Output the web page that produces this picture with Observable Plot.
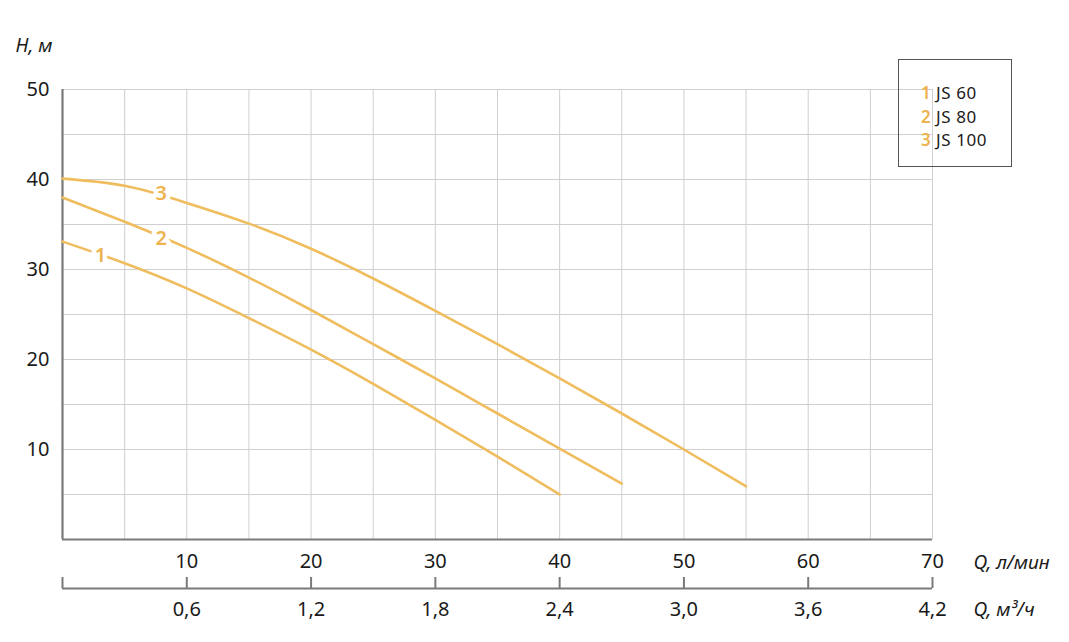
<!DOCTYPE html>
<html>
<head>
<meta charset="utf-8">
<script src="https://cdn.jsdelivr.net/npm/d3@7"></script>
<script src="https://cdn.jsdelivr.net/npm/@observablehq/plot@0.6"></script>
<style>
  html, body { margin: 0; padding: 0; background: #fff; }
  #wrap { position: relative; width: 1069px; height: 642px; font-family: "Noto Sans", sans-serif; }
  #legend { position: absolute; left: 898px; top: 59px; width: 112px; height: 106px;
            border: 1.5px solid #555; box-sizing: content-box; padding: 0; }
  #legend span { position: absolute; font-size: 17px; color: #1a1a1a; line-height: 22px; white-space: nowrap; letter-spacing: 0.6px; }
  #legend span.num { color: #eeb34e; font-weight: 600; left: 22px; }
  #legend span.name { left: 37px; }
</style>
</head>
<body>
<div id="wrap"></div>
<script>
// Data
const q1 = [0, 5, 10, 15, 20, 25, 30, 35, 40];
const h1 = [33.1, 30.7, 27.9, 24.6, 21.1, 17.3, 13.3, 9.2, 5.0];
const q2 = [0, 5, 10, 15, 20, 25, 30, 35, 40, 45];
const h2 = [38.0, 35.3, 32.4, 29.1, 25.5, 21.7, 17.9, 14.0, 10.1, 6.2];
const q3 = [0, 5, 10, 15, 20, 25, 30, 35, 40, 45, 50, 55];
const h3 = [40.1, 39.3, 37.4, 35.1, 32.3, 29.0, 25.4, 21.7, 17.9, 14.0, 10.0, 5.9];

const seriesIds = ["1", "2", "3"];
const seriesNames = ["JS 60", "JS 80", "JS 100"];
const labelQ = [3.05, 7.95, 7.95];
const labelH = [31.6, 33.4, 38.4];

const xTicks = [10, 20, 30, 40, 50, 60, 70];
const xTickMarks = [0, 10, 20, 30, 40, 50, 60, 70];
const yTicks = [10, 20, 30, 40, 50];
const gridXVals = d3.range(5, 71, 5);
const gridYVals = d3.range(5, 51, 5);
const m3hFactor = 0.06; // л/мин -> м³/ч

const curves = [
  ...q1.map((q, i) => ({s: "1", q, h: h1[i]})),
  ...q2.map((q, i) => ({s: "2", q, h: h2[i]})),
  ...q3.map((q, i) => ({s: "3", q, h: h3[i]}))
];
const labels = seriesIds.map((s, i) => ({s, q: labelQ[i], h: labelH[i]}));

const lineColor = "#efbd5e";
const labelColor = "#eeb34e";
const axisColor = "#7a7a7a";
const gridColor = "#cfcfcf";
const tickFont = 20;
const titleFont = 19;

const chart = Plot.plot({
  width: 1069,
  height: 642,
  marginLeft: 62,
  marginRight: 137,
  marginTop: 89,
  marginBottom: 103,
  style: {fontFamily: "Noto Sans, sans-serif", fontSize: "20px", color: "#1a1a1a", background: "#fff"},
  x: {domain: [0, 70]},
  y: {domain: [0, 50]},
  marks: [
    Plot.gridX(gridXVals, {stroke: gridColor, strokeOpacity: 1, strokeWidth: 1}),
    Plot.gridY(gridYVals, {stroke: gridColor, strokeOpacity: 1, strokeWidth: 1}),
    Plot.axisY(yTicks, {tickSize: 0, tickPadding: 13, fontSize: tickFont, label: null, fill: "#1a1a1a"}),
    Plot.axisX(xTicks, {anchor: "bottom", tickSize: 0, tickPadding: 14, fontSize: tickFont, label: null, fill: "#1a1a1a"}),
    Plot.axisX(xTickMarks, {anchor: "bottom", tickSize: 11, tickFormat: () => "", label: null, dy: 38, stroke: axisColor, strokeWidth: 2}),
    Plot.axisX(xTicks, {anchor: "bottom", tickSize: 0, tickPadding: 13, dy: 49, fontSize: tickFont, label: null, fill: "#1a1a1a",
      tickFormat: d => (d * m3hFactor).toFixed(1).replace(".", ",")}),
    Plot.ruleY([0], {dy: 49, stroke: axisColor, strokeWidth: 2}),
    Plot.ruleX([0], {stroke: axisColor, strokeWidth: 2.2}),
    Plot.ruleY([0], {stroke: axisColor, strokeWidth: 2.2}),
    Plot.line(curves, {x: "q", y: "h", z: "s", stroke: lineColor, strokeWidth: 2.6, curve: "natural"}),
    Plot.text(labels, {x: "q", y: "h", text: "s", fill: labelColor, stroke: "#fff", strokeWidth: 9,
      fontSize: 20, fontWeight: 600}),
    Plot.text(["H, м"], {frameAnchor: "top-left", dx: -47, dy: -44, textAnchor: "start", lineAnchor: "middle",
      fontStyle: "italic", fontSize: titleFont, fill: "#1a1a1a"}),
    Plot.text(["Q, л/мин"], {x: () => 70, y: () => 0, dx: 41, dy: 23, textAnchor: "start", lineAnchor: "middle",
      fontStyle: "italic", fontSize: titleFont, fill: "#1a1a1a"}),
    Plot.text(["Q, м³/ч"], {x: () => 70, y: () => 0, dx: 41, dy: 70, textAnchor: "start", lineAnchor: "middle",
      fontStyle: "italic", fontSize: titleFont, fill: "#1a1a1a"})
  ]
});

const wrap = document.getElementById("wrap");
wrap.appendChild(chart);

const legend = document.createElement("div");
legend.id = "legend";
seriesIds.forEach((s, i) => {
  const top = (22 + i * 23.5) + "px";
  const num = document.createElement("span");
  num.className = "num";
  num.style.top = top;
  num.textContent = s;
  const name = document.createElement("span");
  name.className = "name";
  name.style.top = top;
  name.textContent = seriesNames[i];
  legend.appendChild(num);
  legend.appendChild(name);
});
wrap.appendChild(legend);
</script>
</body>
</html>
